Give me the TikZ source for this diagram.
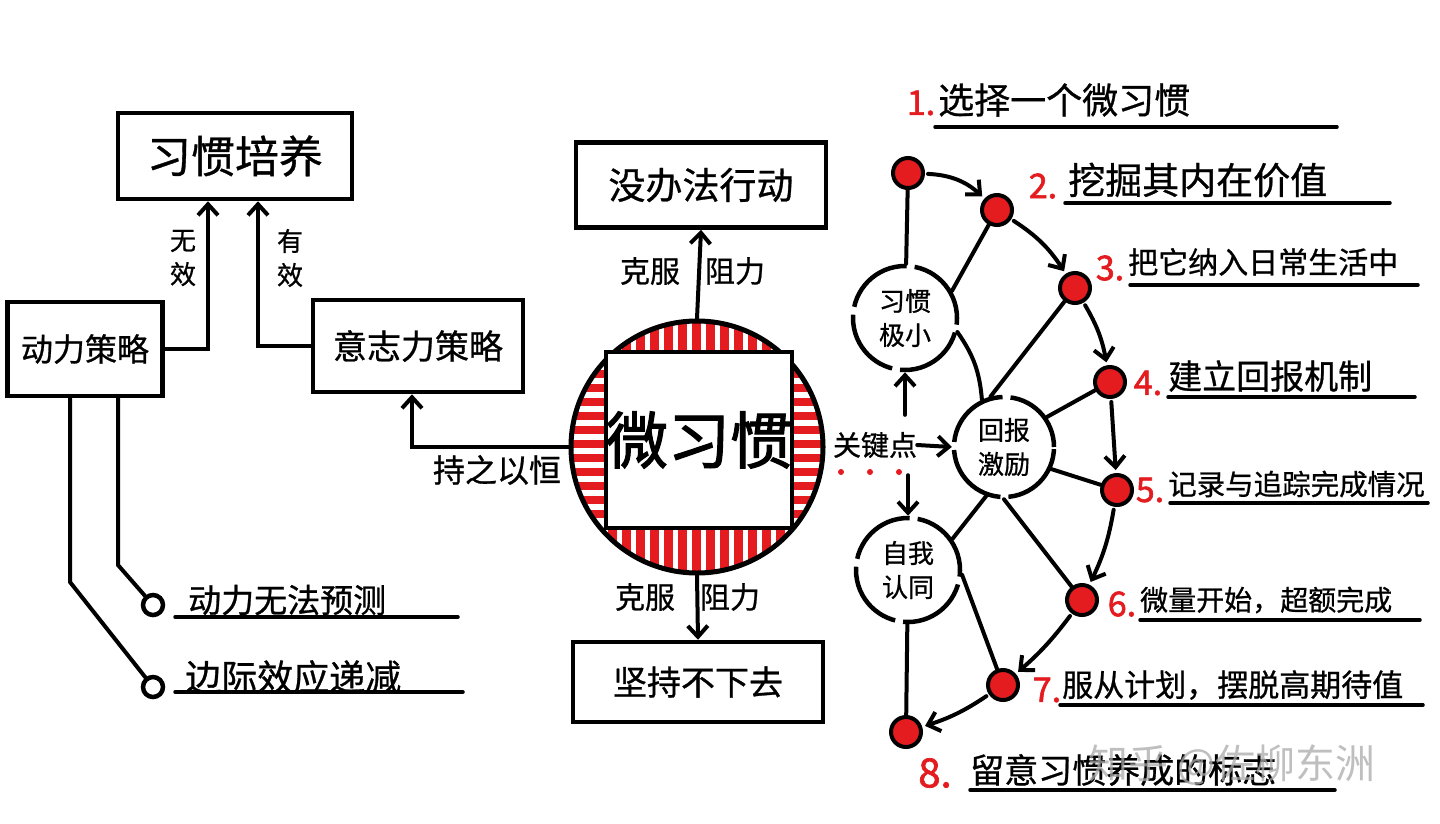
\documentclass[tikz,border=0pt]{standalone}
\usepackage{fontspec}
\newfontfamily\cjk[FakeBold=0.8]{Noto Sans CJK SC}
\newfontfamily\cjkw{Noto Sans CJK SC}
\newfontfamily\cjkb[FakeBold=1.8]{Noto Sans CJK SC}
\usetikzlibrary{arrows.meta}
\definecolor{hred}{RGB}{228,28,32}
\definecolor{wmgray}{RGB}{170,170,170}
\newcommand{\fsz}[1]{\fontsize{#1}{#1}\selectfont}
\begin{document}
\begin{tikzpicture}[x=1pt,y=-1pt,
 every node/.style={font=\cjk, inner sep=0pt},
 box/.style={draw, line width=4.5pt, fill=white},
 ln/.style={line width=4pt, line cap=round},
 arr/.style={ln, -{Straight Barb[length=11pt,width=20pt]}},
 dotn/.style={circle, draw, line width=4pt, fill=hred, minimum size=30pt},
 ring/.style={circle, draw, line width=4.5pt, minimum size=104pt, dash pattern=on 72pt off 8pt},
 ringlab/.style={align=center, font=\cjk\fontsize{26}{34}\selectfont},
 num/.style={font=\cjkb\fsz{34}, text=hred},
 hole/.style={circle, draw, line width=4.5pt, minimum size=20pt},
 uline/.style={line width=3.5pt, line cap=round},
 vlab/.style={align=center, font=\cjk\fontsize{26}{34}\selectfont}
]
\useasboundingbox[fill=white] (0,0) rectangle (1440,823);

% ---------- left side ----------
\node[box, minimum width=234pt, minimum height=86pt, font=\cjk\fsz{44}] (xg) at (235,156) {习惯培养};
\node[box, minimum width=155pt, minimum height=94pt, font=\cjk\fsz{32}] (dl) at (85,349) {动力策略};
\node[box, minimum width=210pt, minimum height=92pt, font=\cjk\fsz{34}] (yz) at (418,346) {意志力策略};

\draw[arr] (dl.east) -| ([xshift=-27pt]xg.south);
\draw[arr] (yz.west) -| ([xshift=23pt]xg.south);
\node[vlab] (wx) at (183,258) {无\\效};
\node[vlab] (yx) at (290,258) {有\\效};

\node[hole] (o1) at (153,605) {};
\node[hole] (o2) at (153,687) {};
\coordinate (k1) at (118,565);
\coordinate (k2) at (70,582);
\draw[ln] (dl.south -| k1) -- (k1) -- (o1);
\draw[ln] (dl.south -| k2) -- (k2) -- (o2);
\node[anchor=west, font=\cjk\fsz{33}] (d1) at (188,600) {动力无法预测};
\node[anchor=west, font=\cjk\fsz{36}] (d2) at (185,677) {边际效应递减};
\draw[uline] (175,617) -- (458,617);
\draw[uline] (175,692) -- (463,692);

% ---------- centre ----------
\begin{scope}
\clip (697,447) circle[radius=125];
\foreach \x in {566,580,...,830} {\fill[hred] (\x,318) rectangle (\x+9,352);
  \fill[hred] (\x,528) rectangle (\x+9,576);}
\foreach \y in {356,370,...,520} {\fill[hred] (566,\y) rectangle (607,\y+8);
  \fill[hred] (791,\y) rectangle (830,\y+8);}
\end{scope}
\node[circle, draw, line width=5pt, minimum size=252pt] (wxg) at (697,447) {};
\node[box, minimum width=184pt, minimum height=176pt, font=\cjkb\fsz{62}] (sq) at (699,440) {微习惯};

\node[box, minimum width=250pt, minimum height=85pt, font=\cjk\fsz{37}] (mbf) at (701,185) {没办法行动};
\node[box, minimum width=250pt, minimum height=80pt, font=\cjk\fsz{34}] (jc) at (698,682) {坚持不下去};
\draw[arr] (wxg.north) -- (mbf.south);
\draw[arr] (wxg.south) -- (jc.north);
\node[font=\cjk\fsz{30}] (kf1) at (650,271) {克服};
\node[font=\cjk\fsz{30}] (zl1) at (735,271) {阻力};
\node[font=\cjk\fsz{30}] (kf2) at (645,597) {克服};
\node[font=\cjk\fsz{30}] (zl2) at (730,597) {阻力};

\draw[arr] (wxg.west) -| ([xshift=-6pt]yz.south);
\node[font=\cjk\fsz{32}] (czyh) at (497,470) {持之以恒};

% ---------- right side ----------
\node[font=\cjk\fsz{28}] (gj) at (875,445) {关键点};
\foreach \x in {841,870,899} \fill[hred] (\x,472) circle[radius=3];

\node[ring] (xj) at (905,318) {};
\node[ringlab] at (xj) {习惯\\极小};
\node[ring, minimum size=100pt] (hb) at (1004,447) {};
\node[ringlab] at (hb) {回报\\激励};
\node[ring] (zw) at (908,570) {};
\node[ringlab] at (zw) {自我\\认同};

\draw[arr] (gj.east) -- (hb.west);
\draw[arr] ([yshift=17pt]gj.north -| xj.south) -- (xj.south);
\draw[arr] ([yshift=-17pt]gj.south -| zw.north) -- (zw.north);

\node[dotn] (s1) at (908,173) {};
\node[dotn] (s2) at (997,210) {};
\node[dotn] (s3) at (1075,288) {};
\node[dotn] (s4) at (1110,382) {};
\node[dotn] (s5) at (1117,490) {};
\node[dotn] (s6) at (1082,600) {};
\node[dotn] (s7) at (1003,685) {};
\node[dotn] (s8) at (906,732) {};

\draw[arr, shorten <=3pt, shorten >=3pt] (s1) to[bend left=20] (s2);
\draw[arr, shorten <=3pt, shorten >=3pt] (s2) to[bend left=12] (s3);
\draw[arr, shorten <=3pt, shorten >=3pt] (s3) to[bend left=10] (s4);
\draw[arr, shorten <=3pt, shorten >=3pt] (s4) to (s5);
\draw[arr, shorten <=3pt, shorten >=3pt] (s5) to[bend left=8] (s6);
\draw[arr, shorten <=3pt, shorten >=3pt] (s6) to[bend left=6] (s7);
\draw[arr, shorten <=3pt, shorten >=3pt] (s7) to[bend left=8] (s8);

\draw[ln] (s1) -- (xj);
\draw[ln] (s2) -- (xj.30);
\draw[ln] (xj.-15) to[bend left=15] (hb.115);
\draw[ln] (s3) -- (hb.105);
\draw[ln] (s4) -- (hb.35);
\draw[ln] (s5) -- (hb.-25);
\draw[ln] (hb.-110) -- (zw.35);
\draw[ln] (hb.-90) -- (s6);
\draw[ln] (zw.-5) -- (s7);
\draw[ln] (zw) -- (s8);

\node[num] (n1) at (921,103) {1.};
\node[num] (n2) at (1043,186) {2.};
\node[num] (n3) at (1110,268) {3.};
\node[num] (n4) at (1148,383) {4.};
\node[num] (n5) at (1150,490) {5.};
\node[num] (n6) at (1122,604) {6.};
\node[num] (n7) at (1047,690) {7.};
\node[num, font=\cjkb\fsz{40}] (n8) at (935,773) {8.};

\node[anchor=west, font=\cjk\fsz{36}] (t1) at (938,100) {选择一个微习惯};
\node[anchor=west, font=\cjk\fsz{37}] (t2) at (1068,180) {挖掘其内在价值};
\node[anchor=west, font=\cjk\fsz{30}] (t3) at (1128,262) {把它纳入日常生活中};
\node[anchor=west, font=\cjk\fsz{34}] (t4) at (1168,376) {建立回报机制};
\node[anchor=west, font=\cjk\fsz{28.5}] (t5) at (1168,484) {记录与追踪完成情况};
\node[anchor=west, font=\cjk\fsz{28}] (t6) at (1140,600) {微量开始，超额完成};
\node[anchor=west, font=\cjk\fsz{31}] (t7) at (1062,685) {服从计划，摆脱高期待值};
\node[anchor=west, font=\cjk\fsz{34}] (t8) at (970,770) {留意习惯养成的标志};

\draw[uline] (935,127) -- (1337,127);
\draw[uline] (1065,203) -- (1390,203);
\draw[uline] (1130,285) -- (1418,285);
\draw[uline] (1168,397) -- (1415,397);
\draw[uline] (1170,503) -- (1428,503);
\draw[uline] (1140,620) -- (1420,620);
\draw[uline] (1060,705) -- (1423,705);
\draw[uline] (970,790) -- (1335,790);

\node[anchor=west, font=\cjkw\fsz{40}, text=wmgray, opacity=0.75] (wm) at (1088,765) {知乎 @佐柳东洲};
\end{tikzpicture}
\end{document}
